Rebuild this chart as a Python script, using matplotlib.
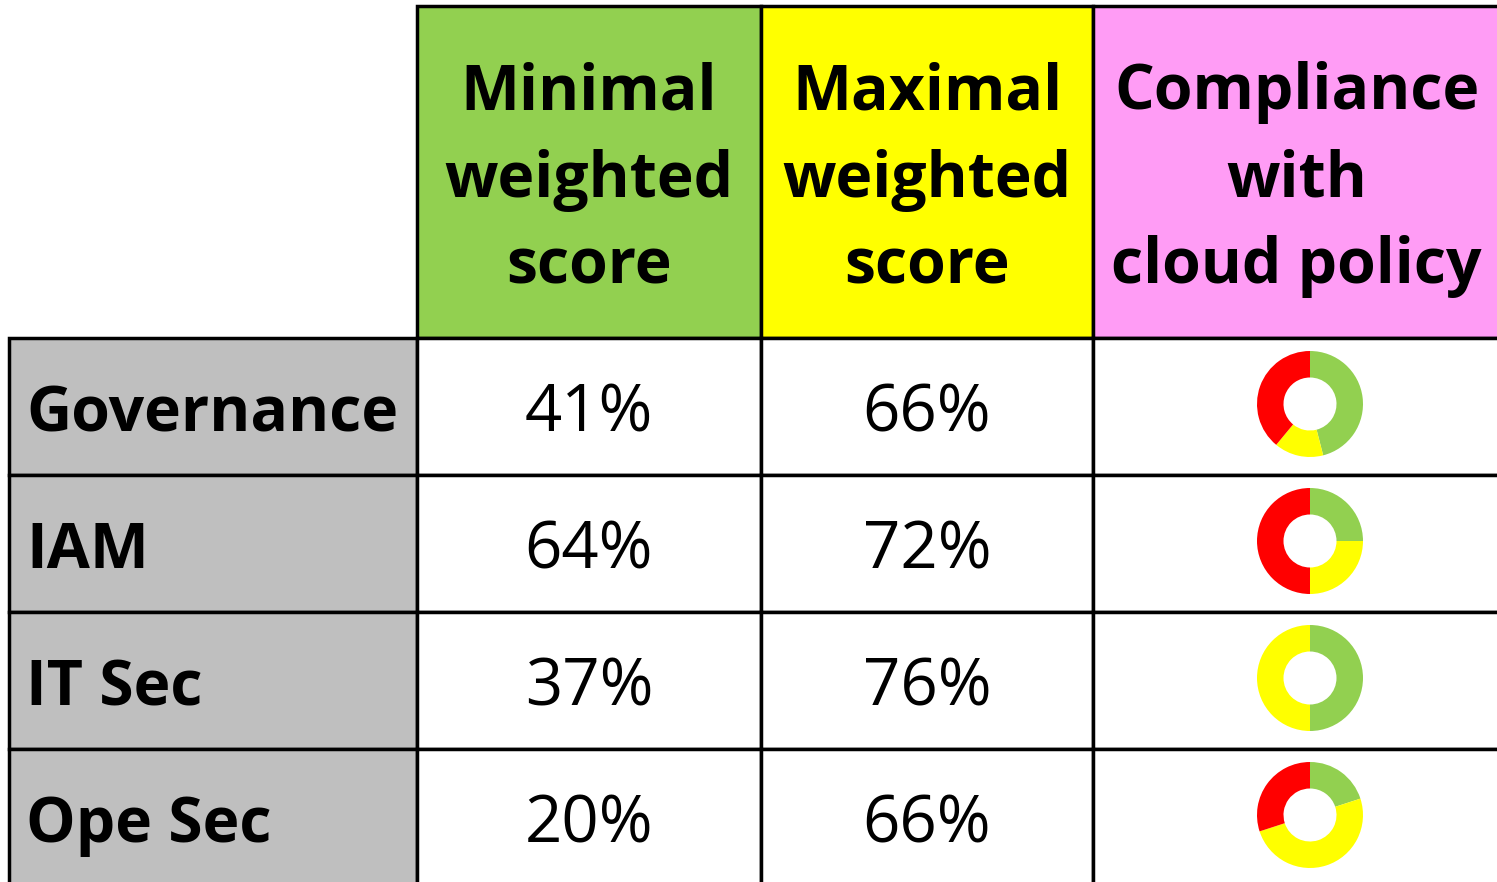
import matplotlib.pyplot as plt

# table data
row_labels = ["Governance", "IAM", "IT Sec", "Ope Sec"]
min_scores = [41, 64, 37, 20]
max_scores = [66, 72, 76, 66]
headers = ["Minimal\nweighted\nscore", "Maximal\nweighted\nscore", "Compliance\nwith\ncloud policy"]

# donut shares (green, yellow, red)
green_share = [46, 25, 50, 20]
yellow_share = [15, 25, 50, 50]
red_share = [39, 50, 0, 30]

header_colors = ["#92D050", "#FFFF00", "#FF9CF5"]
donut_colors = ["#92D050", "#FFFF00", "#FF0000"]
label_bg = "#BFBFBF"

W, H = 1497, 882
fig = plt.figure(figsize=(W / 100, H / 100), dpi=100)
ax = fig.add_axes([0, 0, 1, 1])
ax.set_xlim(0, W)
ax.set_ylim(H, 0)
ax.axis("off")

col_x = [9, 417, 761, 1093, 1530]
head_top, head_bot = 6, 338
row_h = 137
lw = 2.5
font = "Open Sans"

# header cells
for i in range(3):
    x0, x1 = col_x[i + 1], col_x[i + 2]
    ax.add_patch(plt.Rectangle((x0, head_top), x1 - x0, head_bot - head_top,
                               facecolor=header_colors[i], edgecolor="black", lw=lw))
    ax.text((x0 + x1) / 2 - (15 if i == 2 else 0), (head_top + head_bot) / 2 + 8, headers[i],
            ha="center", va="center", fontsize=45, fontweight="bold",
            family=font, linespacing=1.5)

# body rows
for r, lab in enumerate(row_labels):
    y0 = head_bot + r * row_h
    yc = y0 + row_h / 2
    ax.add_patch(plt.Rectangle((col_x[0], y0), col_x[1] - col_x[0], row_h,
                               facecolor=label_bg, edgecolor="black", lw=lw))
    for c in range(1, 4):
        ax.add_patch(plt.Rectangle((col_x[c], y0), col_x[c + 1] - col_x[c], row_h,
                                   facecolor="white", edgecolor="black", lw=lw))
    ax.text(26, yc + 8, lab, ha="left", va="center", fontsize=45,
            fontweight="bold", family=font)
    ax.text((col_x[1] + col_x[2]) / 2, yc + 8, f"{min_scores[r]}%",
            ha="center", va="center", fontsize=47, family=font)
    ax.text((col_x[2] + col_x[3]) / 2, yc + 8, f"{max_scores[r]}%",
            ha="center", va="center", fontsize=47, family=font)

    # donut
    cx, cy, rad = 1310, y0 + 66, 53
    dax = fig.add_axes([(cx - rad) / W, 1 - (cy + rad) / H, 2 * rad / W, 2 * rad / H])
    vals = [green_share[r], yellow_share[r], red_share[r]]
    dax.pie(vals, colors=donut_colors, startangle=90, counterclock=False,
            wedgeprops=dict(width=0.5, linewidth=0))
    dax.set_xlim(-1, 1)
    dax.set_ylim(-1, 1)
    dax.set_aspect("equal")
    dax.axis("off")

fig.savefig("out.png", dpi=100)
